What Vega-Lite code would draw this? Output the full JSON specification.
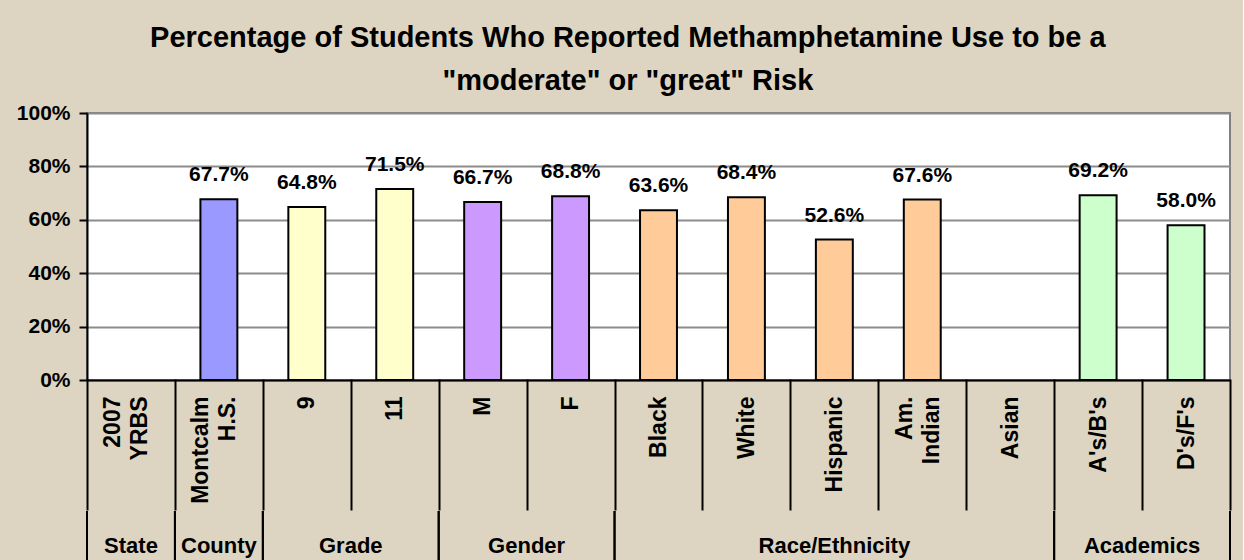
{
  "$schema": "https://vega.github.io/schema/vega-lite/v6.json",
  "background": "#DDD5C1",
  "padding": {"left": 15, "top": 24, "right": 10, "bottom": 0},
  "title": {
    "text": ["Percentage of Students Who Reported Methamphetamine Use to be a", "\"moderate\" or \"great\" Risk"],
    "font": "Liberation Sans",
    "fontSize": 29,
    "fontWeight": "bold",
    "color": "black",
    "lineHeight": 43,
    "anchor": "middle",
    "offset": 5,
    "dx": 4
  },
  "datasets": {
    "bars": [
      {"category": "2007 YRBS", "group": "State", "value": null},
      {"category": "Montcalm H.S.", "group": "County", "value": 0.677},
      {"category": "9", "group": "Grade", "value": 0.648},
      {"category": "11", "group": "Grade", "value": 0.715},
      {"category": "M", "group": "Gender", "value": 0.667},
      {"category": "F", "group": "Gender", "value": 0.688},
      {"category": "Black", "group": "Race/Ethnicity", "value": 0.636},
      {"category": "White", "group": "Race/Ethnicity", "value": 0.684},
      {"category": "Hispanic", "group": "Race/Ethnicity", "value": 0.526},
      {"category": "Am. Indian", "group": "Race/Ethnicity", "value": 0.676},
      {"category": "Asian", "group": "Race/Ethnicity", "value": null},
      {"category": "A's/B's", "group": "Academics", "value": 0.692},
      {"category": "D's/F's", "group": "Academics", "value": 0.58}
    ],
    "groups": [
      {"group": "State", "first": "2007 YRBS", "last": "2007 YRBS", "center": "2007 YRBS", "n": 1},
      {"group": "County", "first": "Montcalm H.S.", "last": "Montcalm H.S.", "center": "Montcalm H.S.", "n": 1},
      {"group": "Grade", "first": "9", "last": "11", "center": "11", "n": 2},
      {"group": "Gender", "first": "M", "last": "F", "center": "F", "n": 2},
      {"group": "Race/Ethnicity", "first": "Black", "last": "Asian", "center": "Hispanic", "n": 5},
      {"group": "Academics", "first": "A's/B's", "last": "D's/F's", "center": "D's/F's", "n": 2}
    ]
  },
  "spacing": -4,
  "vconcat": [
    {
      "width": 1143,
      "height": 267,
      "data": {"name": "bars"},
      "view": {"fill": "white", "stroke": "#808080", "strokeWidth": 2},
      "encoding": {
        "x": {
          "field": "category",
          "type": "nominal",
          "scale": {
            "domain": ["2007 YRBS", "Montcalm H.S.", "9", "11", "M", "F", "Black", "White", "Hispanic", "Am. Indian", "Asian", "A's/B's", "D's/F's"],
            "paddingInner": 0,
            "paddingOuter": 0
          },
          "axis": {
            "title": null,
            "tickBand": "extent",
            "ticks": true,
            "tickSize": 129,
            "tickColor": "black",
            "tickWidth": 2,
            "tickCap": "square",
            "domainColor": "black",
            "domainWidth": 2,
            "labelAngle": 270,
            "labelAlign": "right",
            "labelBaseline": "middle",
            "labelPadding": -113,
            "labelOffset": {"condition": {"test": "datum.value == '2007 YRBS' || datum.value == 'Montcalm H.S.' || datum.value == 'Am. Indian'", "value": -18}, "value": 0},
            "labelFont": "Liberation Sans",
            "labelFontSize": 23,
            "labelFontWeight": "bold",
            "labelColor": "black",
            "labelLineHeight": 27,
            "labelExpr": "split(datum.label, ' ')",
            "labelOverlap": false,
            "grid": false
          }
        }
      },
      "layer": [
        {
          "mark": {"type": "bar", "width": {"band": 0.42}, "stroke": "black", "strokeWidth": 2},
          "encoding": {
            "y": {
              "field": "value",
              "type": "quantitative",
              "scale": {"domain": [0, 1]},
              "axis": {
                "title": null,
                "format": ".0%",
                "values": [0, 0.2, 0.4, 0.6, 0.8, 1],
                "grid": true,
                "gridColor": "#8C8C8C",
                "gridWidth": 2,
                "domainColor": "black",
                "domainWidth": 2,
                "tickColor": "black",
                "tickWidth": 2,
                "tickSize": 8,
                "labelFont": "Liberation Sans",
                "labelFontSize": 21,
                "labelFontWeight": "bold",
                "labelColor": "black",
                "labelPadding": 9,
                "minExtent": 70,
                "maxExtent": 70
              }
            },
            "color": {
              "field": "group",
              "type": "nominal",
              "scale": {
                "domain": ["State", "County", "Grade", "Gender", "Race/Ethnicity", "Academics"],
                "range": ["#9999FF", "#9999FF", "#FFFFCC", "#CC99FF", "#FFCC99", "#CCFFCC"]
              },
              "legend": null
            }
          }
        },
        {
          "mark": {"type": "text", "baseline": "alphabetic", "dy": -18, "font": "Liberation Sans", "fontSize": 21, "fontWeight": "bold", "color": "black"},
          "encoding": {
            "y": {"field": "value", "type": "quantitative"},
            "text": {"field": "value", "type": "quantitative", "format": ".1%"}
          }
        }
      ]
    },
    {
      "width": 1143,
      "height": 52,
      "data": {"name": "groups"},
      "layer": [
        {
          "mark": {"type": "rule", "color": "black", "strokeWidth": 2, "strokeCap": "square"},
          "encoding": {
            "x": {
              "field": "first",
              "type": "nominal",
              "bandPosition": 0,
              "scale": {
                "domain": ["2007 YRBS", "Montcalm H.S.", "9", "11", "M", "F", "Black", "White", "Hispanic", "Am. Indian", "Asian", "A's/B's", "D's/F's"],
                "paddingInner": 0,
                "paddingOuter": 0
              },
              "axis": null
            }
          }
        },
        {
          "mark": {"type": "rule", "color": "black", "strokeWidth": 2, "strokeCap": "square"},
          "encoding": {
            "x": {"field": "last", "type": "nominal", "bandPosition": 1, "axis": null}
          }
        },
        {
          "transform": [{"filter": "datum.n % 2 == 1"}],
          "mark": {"type": "text", "baseline": "alphabetic", "dy": 15, "font": "Liberation Sans", "fontSize": 22, "fontWeight": "bold", "color": "black"},
          "encoding": {
            "x": {"field": "center", "type": "nominal", "bandPosition": 0.5, "axis": null},
            "text": {"field": "group", "type": "nominal"}
          }
        },
        {
          "transform": [{"filter": "datum.n % 2 == 0"}],
          "mark": {"type": "text", "baseline": "alphabetic", "dy": 15, "font": "Liberation Sans", "fontSize": 22, "fontWeight": "bold", "color": "black"},
          "encoding": {
            "x": {"field": "center", "type": "nominal", "bandPosition": 0, "axis": null},
            "text": {"field": "group", "type": "nominal"}
          }
        }
      ]
    }
  ],
  "config": {
    "view": {"stroke": null},
    "font": "Liberation Sans"
  }
}
